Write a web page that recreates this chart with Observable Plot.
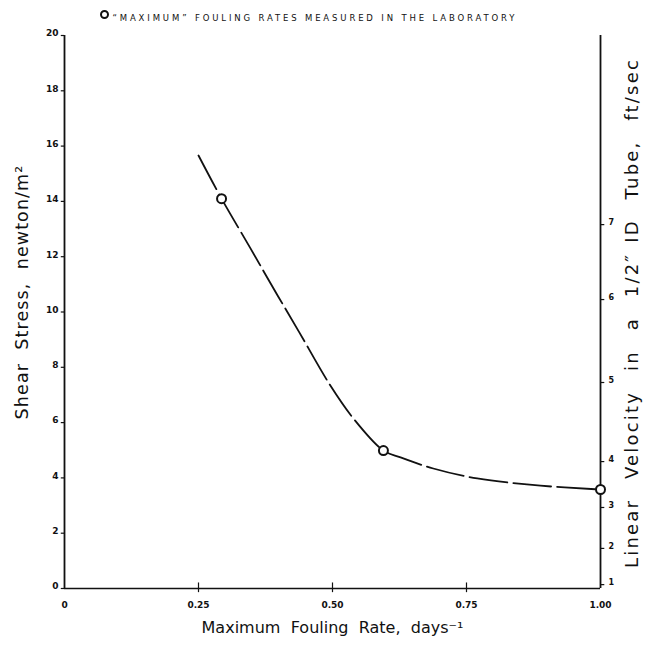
<!DOCTYPE html>
<html>
<head>
<meta charset="utf-8">
<script src="https://cdn.jsdelivr.net/npm/d3@7"></script>
<script src="https://cdn.jsdelivr.net/npm/@observablehq/plot@0.6"></script>
<style>
  html, body { margin: 0; padding: 0; background: #fff; }
  #chart svg { display: block; }
</style>
</head>
<body>
<div id="chart"></div>
<script>
// Curve: x = fouling rate (days^-1), y = shear stress (N/m^2)
const curveX = [0.25, 0.293, 0.347, 0.390, 0.437, 0.496, 0.539, 0.595, 0.627, 0.688, 0.770, 0.888, 1.0];
const curveY = [15.66, 14.1, 12.3, 10.85, 9.3, 7.34, 6.15, 4.99, 4.74, 4.34, 3.98, 3.72, 3.58];
// Measured "maximum" fouling rates
const pointX = [0.293, 0.595, 1.0];
const pointY = [14.1, 4.99, 3.58];
// Tick labels
const xTicks = [0, 0.25, 0.5, 0.75, 1.0];
const xTickLabels = ["0", "0.25", "0.50", "0.75", "1.00"];
const yTicks = [0, 2, 4, 6, 8, 10, 12, 14, 16, 18, 20];
// Right axis: linear velocity (ft/sec) and its position in shear-stress units
const velLabels = ["1", "2", "3", "4", "5", "6", "7"];
const velTau = [0.14, 1.45, 2.93, 4.59, 7.45, 10.45, 13.16];

const legendText = "\u201CMAXIMUM\u201D FOULING RATES MEASURED IN THE LABORATORY";
const xTitle = "Maximum  Fouling  Rate,  days\u207B\u00B9";
const yTitle = "Shear  Stress,  newton/m\u00B2";
const y2Title = "Linear  Velocity  in  a  1/2\u2033 ID  Tube,  ft/sec";

const curve = curveX.map((x, i) => ({x, y: curveY[i]}));
const pts = pointX.map((x, i) => ({x, y: pointY[i]}));
const vel = velLabels.map((l, i) => ({label: l, y: velTau[i]}));
const xt = xTicks.map((x, i) => ({x, label: xTickLabels[i]}));

const font = "DejaVu Sans, sans-serif";

const plot = Plot.plot({
  width: 650,
  height: 651,
  marginLeft: 64,
  marginRight: 50,
  marginTop: 35,
  marginBottom: 63,
  style: {fontFamily: font, background: "#fff", color: "#111"},
  x: {domain: [0, 1], axis: null},
  y: {domain: [0, 20], axis: null},
  marks: [
    // axis lines
    Plot.ruleX([0], {y1: 0, y2: 20, stroke: "#111", strokeWidth: 1.8}),
    Plot.ruleX([1], {y1: 0, y2: 20, stroke: "#111", strokeWidth: 1.8}),
    Plot.ruleY([0], {x1: 0, x2: 1, stroke: "#111", strokeWidth: 1.5}),
    // left ticks
    Plot.ruleY(yTicks, {y: d => d, x1: 0, x2: -0.006, stroke: "#111", strokeWidth: 1.2}),
    Plot.text(yTicks, {y: d => d, x: 0, text: d => String(d), textAnchor: "end", dx: -6, dy: -2, fontSize: 9, fontWeight: "bold", fill: "#111"}),
    // bottom ticks
    Plot.ruleX(xTicks.slice(1, 4), {x: d => d, y1: -0.15, y2: 0.2, stroke: "#111", strokeWidth: 1.2}),
    Plot.text(xt, {x: "x", y: 0, text: "label", dy: 17, fontSize: 9, fontWeight: "bold", fill: "#111"}),
    // right ticks (velocity)
    Plot.ruleY(vel, {y: "y", x1: 1, x2: 1.008, stroke: "#111", strokeWidth: 1.2}),
    Plot.text(vel, {y: "y", x: 1, text: "label", textAnchor: "start", dx: 8, dy: -2, fontSize: 8, fontWeight: "bold", fill: "#111"}),
    // curve
    Plot.line(curve, {x: "x", y: "y", curve: "catmull-rom", stroke: "#111", strokeWidth: 1.8, strokeDasharray: "38,6"}),
    // measured points
    Plot.dot(pts, {x: "x", y: "y", r: 4.5, stroke: "#111", strokeWidth: 2, fill: "#fff"}),
    // legend
    Plot.dot([0], {frameAnchor: "top-left", dx: 40, dy: -21, r: 3.5, stroke: "#111", strokeWidth: 2, fill: "#fff"}),
    Plot.text([legendText], {frameAnchor: "top-left", dx: 48, dy: -21, textAnchor: "start", fontSize: 8.5, fill: "#111"}),
    // axis titles
    Plot.text([xTitle], {frameAnchor: "bottom", dy: 44, textAnchor: "middle", fontSize: 16, fill: "#111"}),
    Plot.text([yTitle], {frameAnchor: "left", dx: -42, dy: -20, textAnchor: "middle", rotate: -90, fontSize: 17.5, fill: "#111"}),
    Plot.text([y2Title], {frameAnchor: "right", dx: 32, dy: 1, textAnchor: "middle", rotate: -90, fontSize: 18, fill: "#111"})
  ]
});

// match text extents seen in the figure
const lengths = new Map([[legendText, 402], [xTitle, 262]]);
const spacing = new Map([[yTitle, ["1.1px", "0px"]], [y2Title, ["2.2px", "2px"]]]);
d3.select(plot).selectAll("text").each(function () {
  const t = this.textContent;
  if (lengths.has(t)) {
    d3.select(this).attr("textLength", lengths.get(t)).attr("lengthAdjust", "spacing");
  }
  if (spacing.has(t)) {
    const [ls, ws] = spacing.get(t);
    d3.select(this).style("letter-spacing", ls).style("word-spacing", ws);
  }
});

document.getElementById("chart").appendChild(plot);
</script>
</body>
</html>
